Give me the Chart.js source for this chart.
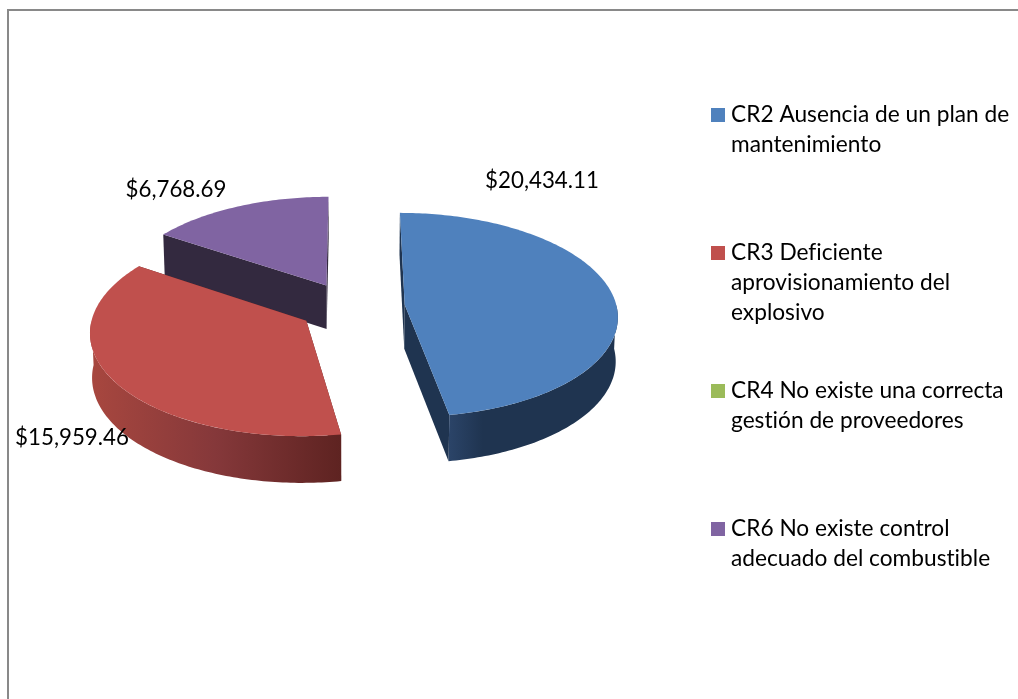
<!DOCTYPE html>
<html>
<head>
<meta charset="utf-8">
<title>Costo por causa raíz</title>
<script src="https://cdn.jsdelivr.net/npm/chart.js@4"></script>
<style>
  html, body { margin: 0; padding: 0; background: #fff; overflow: hidden; }
  #frame { position: absolute; left: 7px; top: 9px; right: 0; bottom: 0; border-left: 2px solid #898989; border-top: 2px solid #898989; }
  #pie { position: absolute; left: 0; top: 0; }
</style>
</head>
<body>
<div id="frame"></div>
<canvas id="pie" width="1018" height="699"></canvas>
<script>
const categories = [
  'CR2 Ausencia de un plan de mantenimiento',
  'CR3 Deficiente aprovisionamiento del explosivo',
  'CR4 No existe una correcta gestión de proveedores',
  'CR6 No existe control adecuado del combustible'
];
const costs = [20434.11, 15959.46, 0, 6768.69];
const topColors = ['#4F81BD', '#C0504D', '#9BBB59', '#8064A2'];
const sideColors = [
  ['#2B4468', '#1F3450', '#1F3450'],
  ['#A8473F', '#85383A', '#5E2321'],
  ['#4D5F2B', '#4D5F2B', '#4D5F2B'],
  ['#33293F', '#33293F', '#33293F']
];
const legendLines = [
  ['CR2 Ausencia de un plan de', 'mantenimiento'],
  ['CR3 Deficiente', 'aprovisionamiento del', 'explosivo'],
  ['CR4 No existe una correcta', 'gestión de proveedores'],
  ['CR6 No existe control', 'adecuado del combustible']
];

const LEGEND_FONT = '22.7px Lato, "Open Sans", sans-serif';
const LABEL_FONT = '22.3px Lato, "Open Sans", sans-serif';
const TILT = 0.478, PERSPECTIVE = 0.00046, DEPTH = 44;
const paintOrder = [3, 0, 1];
const labelPos = { 0: [542, 181], 1: [72, 438], 3: [176, 190] };
const legendTop = [115, 253, 391, 529];

// plane coords (u right, v toward the viewer) -> screen
function project(el, u, v, lowered) {
  const s = 1 / (1 - v * PERSPECTIVE);
  let x = u * s;
  if (lowered) x *= 0.992;
  return [el.x + x, el.y + v * TILT * s + (lowered ? DEPTH * (1 + (s - 1) * 0.5) : 0)];
}

function arcPoints(el, from, to, off, lowered) {
  const pts = [];
  const steps = Math.max(2, Math.ceil((to - from) * 60));
  for (let i = 0; i <= steps; i++) {
    const a = from + (to - from) * i / steps;
    pts.push(project(el, off[0] + Math.cos(a) * el.outerRadius, off[1] + Math.sin(a) * el.outerRadius, lowered));
  }
  return pts;
}

function fillPoly(ctx, pts, fill) {
  ctx.beginPath();
  pts.forEach((p, i) => (i ? ctx.lineTo(p[0], p[1]) : ctx.moveTo(p[0], p[1])));
  ctx.closePath();
  ctx.fillStyle = fill;
  ctx.fill();
}

function drawSlice(ctx, el, index) {
  const mid = (el.startAngle + el.endAngle) / 2;
  const off = [Math.cos(mid) * el.options.offset, Math.sin(mid) * el.options.offset];
  const sides = sideColors[index];
  const apex = project(el, off[0], off[1], false);
  const apexLow = project(el, off[0], off[1], true);
  const top = arcPoints(el, el.startAngle, el.endAngle, off, false);
  const low = arcPoints(el, el.startAngle, el.endAngle, off, true);

  // cut faces
  fillPoly(ctx, [apex, top[0], low[0], apexLow], sides[2]);
  fillPoly(ctx, [apex, top[top.length - 1], low[low.length - 1], apexLow], sides[2]);

  // outer wall, only the part facing the viewer
  const from = Math.max(el.startAngle, 0);
  const to = Math.min(el.endAngle, Math.PI);
  if (to > from) {
    const upper = arcPoints(el, from, to, off, false);
    const lower = arcPoints(el, from, to, off, true).reverse();
    const xs = upper.map(p => p[0]);
    const grad = ctx.createLinearGradient(Math.min(...xs), 0, Math.max(...xs), 0);
    const lightSide = index === 0 ? [0, 0.2, 1] : [0, 0.5, 1];
    sides.forEach((c, i) => grad.addColorStop(lightSide[i], c));
    fillPoly(ctx, upper.concat(lower), grad);
  }

  fillPoly(ctx, [apex].concat(top), el.options.backgroundColor);
}

const pie3d = {
  id: 'pie3d',
  beforeDatasetDraw(chart, args) {
    const arcs = chart.getDatasetMeta(args.index).data;
    paintOrder.forEach(i => drawSlice(chart.ctx, arcs[i], i));
    return false;
  },
  afterDatasetsDraw(chart) {
    const ctx = chart.ctx;
    ctx.save();
    ctx.letterSpacing = '0.01px';
    ctx.font = LABEL_FONT;
    ctx.fillStyle = '#000';
    ctx.textBaseline = 'middle';
    ctx.textAlign = 'center';
    costs.forEach((v, i) => {
      if (!v) return;
      const txt = '$' + v.toLocaleString('en-US', { minimumFractionDigits: 2 });
      ctx.fillText(txt, labelPos[i][0], labelPos[i][1]);
    });
    ctx.font = LEGEND_FONT;
    ctx.textAlign = 'left';
    legendLines.forEach((lines, i) => {
      ctx.fillStyle = topColors[i];
      ctx.fillRect(711, legendTop[i] - 7, 14, 14);
      ctx.fillStyle = '#000';
      lines.forEach((t, j) => ctx.fillText(t, 731, legendTop[i] + j * 30));
    });
    ctx.restore();
  }
};

new Chart(document.getElementById('pie'), {
  type: 'pie',
  data: {
    labels: categories,
    datasets: [{
      data: costs,
      backgroundColor: topColors,
      borderWidth: 0,
      offset: [54.5, 52, 52, 52]
    }]
  },
  options: {
    responsive: false,
    animation: false,
    radius: 212,
    layout: { padding: { right: 317, bottom: 85 } },
    plugins: { legend: { display: false }, tooltip: { enabled: false } }
  },
  plugins: [pie3d]
});
</script>
</body>
</html>
